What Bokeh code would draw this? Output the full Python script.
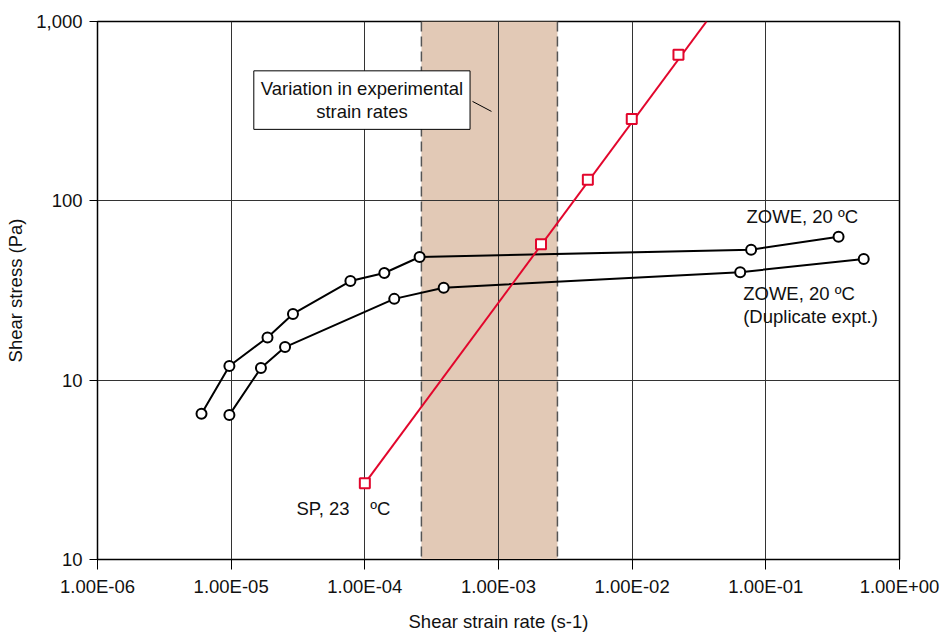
from bokeh.plotting import figure
from bokeh.models import FixedTicker, CustomJSTickFormatter, Label, BoxAnnotation, Span
from bokeh.embed import file_html
from bokeh.resources import INLINE

# ---- data ----
x_ticks = [1e-6, 1e-5, 1e-4, 1e-3, 1e-2, 1e-1, 1e0]
x_tick_labels = ["1.00E-06", "1.00E-05", "1.00E-04", "1.00E-03", "1.00E-02", "1.00E-01", "1.00E+00"]
y_ticks = [1, 10, 100, 1000]
y_tick_labels = ["10", "10", "100", "1,000"]

zowe1_rate = [6.0e-6, 9.7e-6, 1.87e-5, 2.9e-5, 7.8e-5, 1.4e-4, 2.57e-4, 7.76e-2, 0.35]
zowe1_stress = [6.5, 12.0, 17.3, 23.4, 35.7, 39.6, 48.6, 53.4, 63.0]

zowe2_rate = [9.7e-6, 1.67e-5, 2.53e-5, 1.66e-4, 3.89e-4, 6.43e-2, 0.54]
zowe2_stress = [6.4, 11.7, 15.3, 28.4, 32.8, 40.0, 47.4]

sp_rate = [1.0e-4, 2.08e-3, 4.66e-3, 9.93e-3, 2.22e-2]
sp_stress = [2.66, 57.3, 131, 286, 652]
sp_fit_rate = [1.0e-4, 3.6e-2]
sp_fit_stress = [2.66, 1000]

shade_lo, shade_hi = 2.65e-4, 2.76e-3

FONT = "Liberation Sans"
FS = "18.5px"
RED = "#E2062C"

p = figure(width=951, height=635, x_axis_type="log", y_axis_type="log",
           x_range=(1e-6, 1), y_range=(1, 1000),
           output_backend="svg", toolbar_location=None,
           min_border_left=97, min_border_right=52, min_border_top=21, min_border_bottom=76)

p.background_fill_color = "white"
p.border_fill_color = "white"
p.outline_line_color = "black"
p.outline_line_width = 1.5

# shaded band (behind grid)
band = BoxAnnotation(left=shade_lo, right=shade_hi, fill_color="#E2C9B6", fill_alpha=1.0,
                     line_color=None, level="image")
p.add_layout(band)

# axes
fmt_code = """
let best = 0, bd = Infinity;
for (let i = 0; i < tv.length; i++) {
  const d = Math.abs(Math.log10(tick) - Math.log10(tv[i]));
  if (d < bd) { bd = d; best = i; }
}
return tl[best];
"""
p.xaxis.ticker = FixedTicker(ticks=x_ticks)
p.xaxis.formatter = CustomJSTickFormatter(args=dict(tv=x_ticks, tl=x_tick_labels), code=fmt_code)
p.yaxis.ticker = FixedTicker(ticks=y_ticks)
p.yaxis.formatter = CustomJSTickFormatter(args=dict(tv=y_ticks, tl=y_tick_labels), code=fmt_code)

for ax in (p.xaxis, p.yaxis):
    ax.major_label_text_font = FONT
    ax.major_label_text_font_size = FS
    ax.major_label_text_color = "#111"
    ax.axis_label_text_font = FONT
    ax.axis_label_text_font_size = FS
    ax.axis_label_text_font_style = "normal"
    ax.axis_label_text_color = "#111"
    ax.minor_tick_line_color = None
    ax.major_tick_in = 0
    ax.axis_line_color = "black"
    ax.major_tick_line_color = "black"

p.xaxis.major_tick_out = 10
p.yaxis.major_tick_out = 8
p.xaxis.major_label_standoff = 6
p.yaxis.major_label_standoff = 7
p.xaxis.axis_label = "Shear strain rate (s-1)"
p.yaxis.axis_label = "Shear stress (Pa)"
p.xaxis.axis_label_standoff = 11
p.yaxis.axis_label_standoff = 7

p.xgrid.ticker = FixedTicker(ticks=x_ticks)
p.ygrid.ticker = FixedTicker(ticks=y_ticks)
p.grid.grid_line_color = "#333333"
p.grid.grid_line_width = 1
p.grid.minor_grid_line_color = None

# dashed band edges
for loc in (shade_lo, shade_hi):
    p.add_layout(Span(location=loc, dimension="height", line_color="#555555",
                      line_width=1.5, line_dash="10 5", level="underlay"))

# ZOWE series
p.line(zowe1_rate, zowe1_stress, line_color="black", line_width=2)
p.scatter(zowe1_rate, zowe1_stress, marker="circle", size=10, fill_color="white",
          line_color="black", line_width=2)
p.line(zowe2_rate, zowe2_stress, line_color="black", line_width=2)
p.scatter(zowe2_rate, zowe2_stress, marker="circle", size=10, fill_color="white",
          line_color="black", line_width=2)

# SP series
p.line(sp_fit_rate, sp_fit_stress, line_color=RED, line_width=2)
p.scatter(sp_rate, sp_stress, marker="square", size=10, fill_color="white",
          line_color=RED, line_width=2)

# annotations
p.line([6.39e-4, 8.86e-4], [358.4, 315.2], line_color="black", line_width=1)
p.add_layout(Label(x=9.51e-5, y=364.5, text="Variation in experimental\nstrain rates",
                   text_align="center", text_baseline="middle", text_font=FONT,
                   text_font_size=FS, text_color="#111", text_line_height=1.12,
                   background_fill_color="white", border_line_color="black",
                   border_line_width=1, padding=7))

def lab(x, y, t, align="left"):
    p.add_layout(Label(x=x, y=y, text=t, text_align=align, text_baseline="middle",
                       text_font=FONT, text_font_size=FS, text_color="#111"))

lab(0.0717, 82.0, "ZOWE, 20 ºC")
lab(0.0677, 30.4, "ZOWE, 20 ºC")
lab(0.0677, 22.7, "(Duplicate expt.)")
lab(3.08e-5, 1.93, "SP, 23")
lab(1.10e-4, 1.93, "ºC")

open("out.html", "w").write(file_html(p, INLINE))
